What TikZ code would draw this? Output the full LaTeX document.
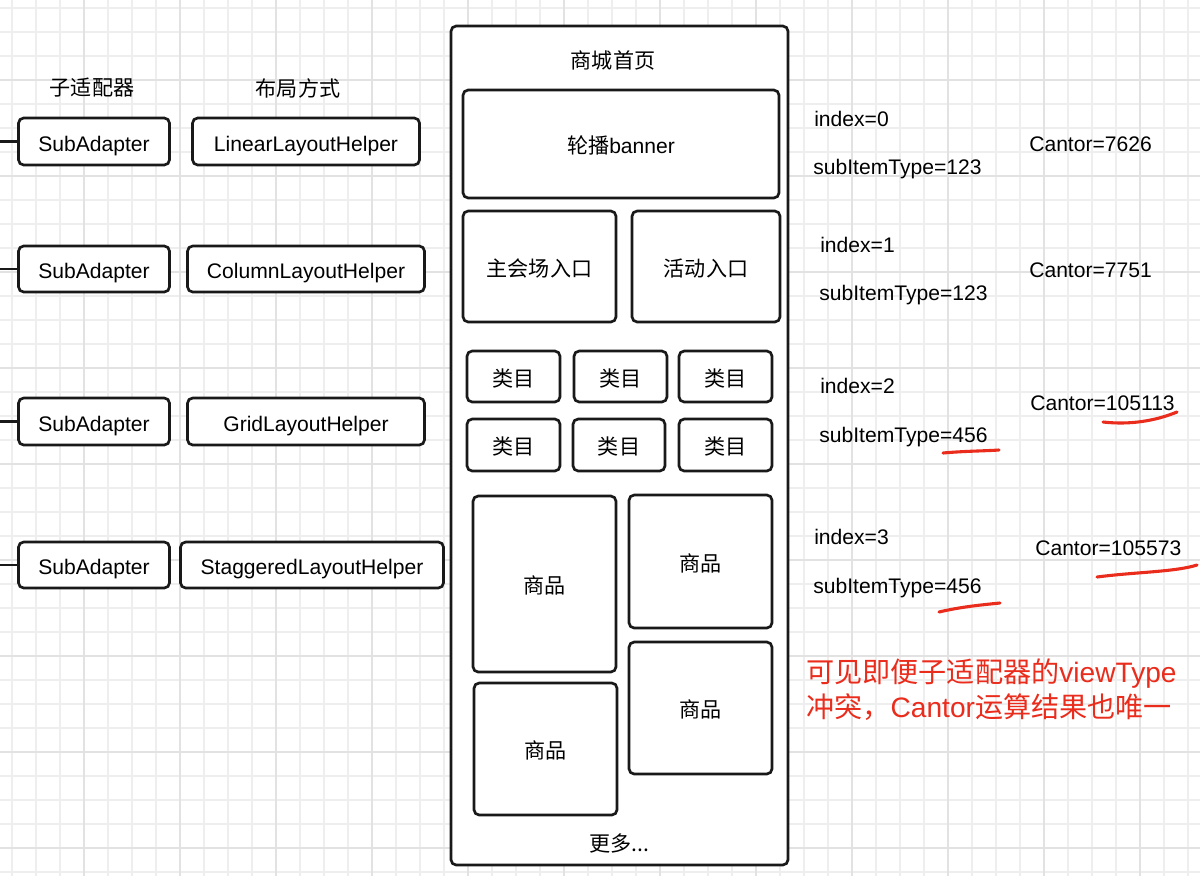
\documentclass[tikz,border=0pt]{standalone}
\usepackage{fontspec}
\setmainfont{Liberation Sans}
\newfontfamily\cjk{Noto Sans CJK SC}
\usepackage{xcolor}
\usetikzlibrary{positioning}
\definecolor{gridgray}{RGB}{238,238,238}
\definecolor{gridbold}{RGB}{226,226,226}
\definecolor{markred}{RGB}{234,44,28}

\begin{document}
\begin{tikzpicture}[
  x=0.025cm, y=-0.025cm,
  font=\fontsize{15}{18}\selectfont,
  gridline/.style={draw=gridgray, line width=0.9pt},
  gridmajor/.style={draw=gridbold, line width=0.9pt},
  box/.style={rounded corners=0.13cm, draw=black!90, line width=1.9pt, fill=white, inner sep=0pt, outer sep=0pt, align=center, text height=13.6pt, text depth=0pt},
  wh/.style 2 args={minimum width=#1*0.025cm, minimum height=#2*0.025cm},
  stub/.style={line width=1.9pt, draw=black!90},
  head/.style={inner sep=0pt},
  info/.style={anchor=west, inner sep=0pt},
  redmark/.style={draw=markred, line width=2.2pt, line cap=round}
]
\useasboundingbox (0,0) rectangle (1200,876);

% Background grid
\fill[white] (0,0) rectangle (1200,876);
\foreach \gx in {12,36,...,1200} \draw[gridline] (\gx,0) -- (\gx,876);
\foreach \gy in {8,32,...,876} \draw[gridline] (0,\gy) -- (1200,\gy);
\foreach \gx in {84,180,...,1200} \draw[gridmajor] (\gx,0) -- (\gx,876);
\foreach \gy in {80,176,...,876} \draw[gridmajor] (0,\gy) -- (1200,\gy);

% Column headers
\node[head] (hsub) at (92,88) {\cjk 子适配器};
\node[head] (hlay) at (298,88) {\cjk 布局方式};

% Sub adapters and their layout helpers
\node[box, wh={151}{47}] (sa1) at (94,141.5) {SubAdapter};
\node[box, wh={151}{46}] (sa2) at (94,269) {SubAdapter};
\node[box, wh={151}{47}] (sa3) at (94,421.5) {SubAdapter};
\node[box, wh={151}{46}] (sa4) at (94,565) {SubAdapter};

\node[box, wh={227}{47}, right=0.575cm of sa1] (lin) {LinearLayoutHelper};
\node[box, wh={237}{46}, right=0.45cm of sa2] (col) {ColumnLayoutHelper};
\node[box, wh={237}{47}, right=0.45cm of sa3] (grd) {GridLayoutHelper};
\node[box, wh={263}{46}, right=0.275cm of sa4] (stg) {StaggeredLayoutHelper};

\coordinate (e1) at (0,141.5);
\coordinate (e2) at (0,269);
\coordinate (e3) at (0,421.5);
\coordinate (e4) at (0,565);
\draw[stub] (e1) -- (sa1.west);
\draw[stub] (e2) -- (sa2.west);
\draw[stub] (e3) -- (sa3.west);
\draw[stub] (e4) -- (sa4.west);

% Home page
\node[box, wh={337}{839}] (home) at (619.5,445.5) {};
\node[head] (title) at (613,60) {\cjk 商城首页};
\node[box, wh={316}{108}] (banner) at (621,144) {{\cjk 轮播}banner};

\node[box, wh={153}{111}] (hall) at (539.5,266.5) {\cjk 主会场入口};
\node[box, wh={148}{111}] (act) at (706,266.5) {\cjk 活动入口};

\node[box, wh={93}{51}] (c11) at (513.5,376.5) {\cjk 类目};
\node[box, wh={93}{51}] (c12) at (620.5,376.5) {\cjk 类目};
\node[box, wh={93}{51}] (c13) at (725.5,376.5) {\cjk 类目};
\node[box, wh={93}{52}] (c21) at (513.5,445) {\cjk 类目};
\node[box, wh={92}{52}] (c22) at (619,445) {\cjk 类目};
\node[box, wh={93}{52}] (c23) at (725.5,445) {\cjk 类目};

\node[box, wh={143}{176}] (g1) at (544.5,584) {\cjk 商品};
\node[box, wh={143}{133}] (g2) at (700.5,561.5) {\cjk 商品};
\node[box, wh={143}{132}] (g3) at (700.5,708) {\cjk 商品};
\node[box, wh={143}{132}] (g4) at (545.5,749) {\cjk 商品};

\node[head] (more) at (619,843) {\cjk 更多...};

% Index / type / Cantor values
\node[info] (i0) at (814,119) {index=0};
\node[info] (t0) at (813,169) {subItemType=123};
\node[info] (k0) at (1029,144) {Cantor=7626};
\node[info] (i1) at (820,245) {index=1};
\node[info] (t1) at (819,295) {subItemType=123};
\node[info] (k1) at (1029,270) {Cantor=7751};
\node[info] (i2) at (820,386) {index=2};
\node[info] (t2) at (819,437) {subItemType=456};
\node[info] (k2) at (1030,403) {Cantor=105113};
\node[info] (i3) at (814,537) {index=3};
\node[info] (t3) at (813,588) {subItemType=456};
\node[info] (k3) at (1035,548) {Cantor=105573};

% Hand marks
\draw[redmark] (943,453) .. controls (965,451) and (985,451) .. (999,450);
\draw[redmark] (1103,422) .. controls (1130,425) and (1155,421) .. (1177,412);
\draw[redmark] (939,612) .. controls (960,607) and (980,605) .. (1000,603);
\draw[redmark] (1097,577) .. controls (1135,572) and (1175,572) .. (1197,565);

\node[info, text=markred, align=left, font=\fontsize{20}{25}\selectfont] (note) at (806,690)
  {{\cjk 可见即便子适配器的}viewType\\{\cjk 冲突，}Cantor{\cjk 运算结果也唯一}};
\end{tikzpicture}
\end{document}
